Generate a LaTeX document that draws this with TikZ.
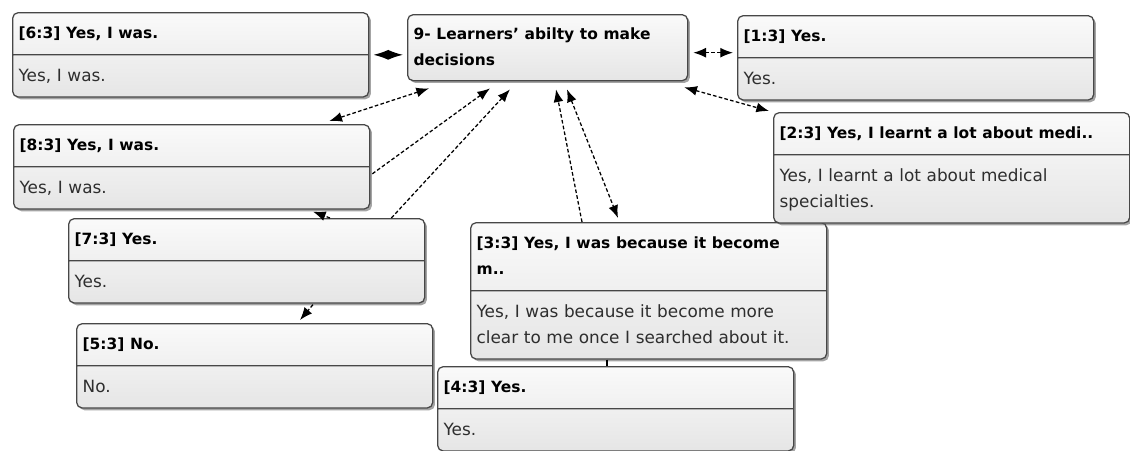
\documentclass[tikz,border=0pt]{standalone}
\usepackage{fontspec}
\setmainfont{DejaVu Sans}
\usetikzlibrary{arrows.meta,calc,shapes.multipart,shadows}

\newcommand{\qhead}[1]{\strut{\color{black}\fontsize{11}{18.5}\selectfont\bfseries #1\strut}}
\newcommand{\qbody}[1]{\strut #1\strut}

\begin{document}
\begin{tikzpicture}[
  x=0.025cm, y=-0.025cm,
  card/.style={draw=black!72, line width=0.9pt, rounded corners=4pt,
               top color=black!2, bottom color=black!10,
               drop shadow={shadow xshift=1.6pt, shadow yshift=-1.6pt,
                            fill=black!65, opacity=0.55},
               align=left, inner xsep=0.15cm, inner ysep=5.3pt,
               text=black!82, font=\fontsize{12}{18.5}\selectfont,
               anchor=north west},
  quote/.style={card, rectangle split, rectangle split parts=2,
                text width=8.6cm},
  link/.style={dash pattern=on 2.6pt off 1.6pt, line width=0.9pt},
  >={Latex[length=9pt,width=7pt]}
]
  \useasboundingbox (0,0) rectangle (1130,450);

  \node[card, text width=6.7cm, inner ysep=5pt] (q9) at (407,14)
    {\qhead{9- Learners' abilty to make\\ decisions}};

  \node[quote] (q6) at (12,12)   {\qhead{[6:3] Yes, I was.}\nodepart{two}\qbody{Yes, I was.}};
  \node[quote] (q8) at (13,124)  {\qhead{[8:3] Yes, I was.}\nodepart{two}\qbody{Yes, I was.}};
  \node[quote] (q7) at (68,218)  {\qhead{[7:3] Yes.}\nodepart{two}\qbody{Yes.}};
  \node[quote] (q5) at (76,323)  {\qhead{[5:3] No.}\nodepart{two}\qbody{No.}};
  \node[quote] (q3) at (470,222)
    {\qhead{[3:3] Yes, I was because it become\\ m..}\nodepart{two}%
     \qbody{Yes, I was because it become more\\ clear to me once I searched about it.}};
  \node[quote] (q4) at (437,366) {\qhead{[4:3] Yes.}\nodepart{two}\qbody{Yes.}};
  \node[quote] (q1) at (737,15)  {\qhead{[1:3] Yes.}\nodepart{two}\qbody{Yes.}};
  \node[quote] (q2) at (773,112)
    {\qhead{[2:3] Yes, I learnt a lot about medi..}\nodepart{two}%
     \qbody{Yes, I learnt a lot about medical\\ specialties.}};

  % links to the code
  \draw[<->, line width=0.9pt, >={Latex[length=10.5pt,width=7pt]}]
    ($(q6.east)+(4,0)$) -- ($(q6.east -| q9.west)+(-4,0)$);
  \draw[link, <->] ($(q9.east)+(5,5)$) -- ($(q9.east -| q1.west)+(-4,5)$);
  \draw[link, <->] ($(q9.south east)+(-4,6)$) -- ($(q2.north west)+(-4,-1)$);
  \draw[link, <->] ($(q9.south west)+(22,7)$) -- ($(q8.north east)+(-41,-3)$);
  \draw[link, ->] ($(q8.east)+(2,7)$) -- ($(q9.south west)+(83,7)$);
  \draw[link, ->] ($(q7.north east)+(-34,0)$) -- ($(q9.south west)+(103,8)$);
  \draw[link, ->] ($(q3.north west)+(112,0)$) -- ($(q9.south west)+(149,8)$);
  \draw[link, <->] ($(q9.south west)+(160,8)$) -- ($(q3.north west)+(148,-4)$);

  % links between quotations
  \draw[link, ->] ($(q7.north west)+(262,0)$) -- ($(q8.south west)+(300,2)$);
  \draw[link, ->] ($(q7.south west)+(245,1)$) -- ($(q5.north west)+(224,-3)$);
  \draw[line width=0.9pt] ($(q3.south west)+(137,0)$) -- ($(q4.north west)+(170,0)$);
\end{tikzpicture}
\end{document}
